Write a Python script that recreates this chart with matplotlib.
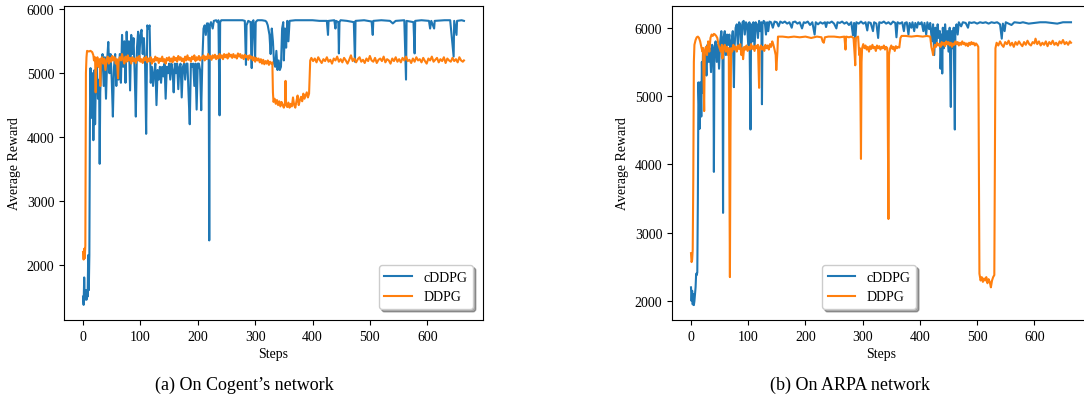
import matplotlib
matplotlib.use("Agg")
import matplotlib.pyplot as plt

plt.rcParams['font.family'] = ['Liberation Serif', 'DejaVu Serif']

# (step, average reward)
cogent_cddpg = [
    (0, 1500), (1, 1370), (2, 1800), (3, 1450), (4, 1600), (5, 1550), (6, 1450), (7, 1600),
    (8, 1500), (9, 2150), (10, 1600), (11, 2150), (12, 4300), (13, 5080), (14, 4500), (15, 4300),
    (16, 5000), (17, 4700), (18, 3950), (19, 4600), (20, 5050), (21, 4200), (22, 4700), (24, 5100),
    (26, 4600), (28, 4900), (29, 3580), (30, 4700), (32, 5200), (34, 5300), (36, 4800), (38, 5250),
    (40, 4600), (42, 5200), (44, 5490), (46, 5000), (48, 5300), (50, 4900), (52, 4320), (54, 5100),
    (56, 5300), (58, 4800), (60, 5200), (62, 4900), (64, 5300), (66, 4850), (68, 5600), (70, 5100),
    (72, 5500), (74, 4850), (76, 5650), (78, 5200), (80, 5500), (82, 4730), (84, 5600), (86, 5300),
    (88, 5550), (90, 5000), (92, 4320), (94, 5400), (96, 5650), (98, 5200), (100, 5600), (102, 5680),
    (104, 5300), (106, 5550), (108, 5200), (110, 4050), (112, 5750), (114, 5700), (116, 5750),
    (118, 4850), (120, 5100), (122, 4800), (124, 5000), (126, 5150), (128, 4500), (130, 5050),
    (132, 4900), (134, 5100), (136, 4850), (138, 5100), (140, 4950), (142, 5150), (144, 4600),
    (146, 5100), (148, 5000), (150, 5150), (152, 4900), (154, 5150), (156, 5050), (158, 4700),
    (160, 5150), (162, 5000), (164, 5150), (166, 4750), (168, 5100), (170, 5150), (172, 4620),
    (174, 5100), (176, 5150), (178, 4900), (180, 5150), (182, 5150), (184, 4650), (186, 4200),
    (188, 5150), (190, 5100), (192, 5150), (194, 4800), (196, 5150), (198, 4430), (200, 5150),
    (202, 5150), (204, 5050), (206, 4420), (208, 5200), (210, 5700), (212, 5750), (214, 5600),
    (216, 5780), (218, 5780), (219, 5300), (220, 2380), (221, 5750), (223, 5800), (226, 5700),
    (228, 5820), (232, 5830), (234, 5800), (236, 5830), (238, 4340), (239, 5800), (241, 5830),
    (250, 5830), (260, 5830), (270, 5830), (278, 5830), (282, 5820), (284, 5130), (285, 5750),
    (288, 5820), (292, 5800), (294, 5080), (295, 5800), (297, 5830), (300, 5200), (301, 5800),
    (304, 5830), (312, 5830), (318, 5820), (320, 5800), (322, 5750), (325, 5600), (327, 5300),
    (329, 5700), (331, 5500), (333, 5150), (335, 5100), (337, 5350), (339, 5050), (341, 5200),
    (343, 5050), (345, 5100), (347, 5700), (349, 5800), (350, 5200), (352, 5700), (354, 5400),
    (356, 5820), (358, 5500), (360, 5820), (370, 5830), (385, 5830), (400, 5830), (412, 5820),
    (425, 5820), (427, 5600), (428, 5820), (438, 5830), (440, 5700), (441, 5820), (445, 5800),
    (446, 5310), (447, 5800), (449, 5830), (460, 5820), (472, 5800), (474, 5180), (475, 5820),
    (490, 5830), (503, 5810), (505, 5600), (506, 5820), (520, 5830), (535, 5820), (540, 5780),
    (545, 5820), (560, 5830), (563, 4900), (564, 5820), (576, 5800), (578, 5310), (579, 5820),
    (590, 5830), (603, 5820), (605, 5700), (607, 5820), (612, 5700), (613, 5820), (630, 5830),
    (640, 5830), (646, 5260), (647, 5820), (651, 5600), (652, 5820), (660, 5830), (664, 5820),
]

cogent_ddpg = [
    (0, 2200), (1, 2080), (2, 2250), (3, 2100), (4, 2300), (5, 5000), (6, 5250), (7, 5350),
    (10, 5340), (13, 5350), (16, 5330), (18, 5280), (19, 5200), (21, 5250), (22, 4700), (23, 5150),
    (25, 5250), (27, 5100), (29, 5220), (30, 4800), (31, 5200), (33, 5250), (35, 5150), (37, 5230),
    (39, 5050), (41, 5200), (43, 5260), (45, 5150), (47, 5240), (49, 5180), (51, 5270), (53, 5200),
    (55, 5250), (57, 5150), (59, 5220), (61, 4920), (62, 5180), (64, 5250), (66, 5200), (68, 5300),
    (70, 5210), (72, 5150), (74, 5260), (76, 5180), (78, 5280), (80, 5200), (82, 5240), (84, 5150),
    (86, 5250), (88, 5190), (90, 5230), (92, 5160), (94, 5250), (96, 5200), (98, 5270), (100, 5180),
    (102, 5220), (104, 5160), (106, 5240), (108, 5200), (110, 5260), (112, 5170), (114, 5230),
    (116, 5190), (118, 5250), (120, 5150), (122, 5220), (124, 5180), (126, 5260), (128, 5200),
    (130, 5240), (132, 5160), (134, 5230), (136, 5190), (138, 5260), (140, 5180), (142, 5220),
    (144, 5150), (146, 5240), (148, 5200), (150, 5250), (152, 5180), (154, 5230), (156, 5170),
    (158, 5260), (160, 5200), (162, 5240), (164, 5180), (166, 5270), (168, 5210), (170, 5250),
    (172, 5190), (174, 5230), (176, 5170), (178, 5260), (180, 5200), (182, 5280), (184, 5210),
    (186, 5240), (188, 5180), (190, 5260), (192, 5220), (194, 5280), (196, 5190), (198, 5250),
    (200, 5210), (202, 5270), (204, 5200), (206, 5250), (208, 5230), (210, 5280), (212, 5200),
    (214, 5260), (216, 5220), (218, 5300), (220, 5230), (222, 5270), (224, 5210), (226, 5280),
    (228, 5240), (230, 5290), (232, 5220), (234, 5270), (236, 5230), (238, 5300), (240, 5240),
    (242, 5280), (244, 5220), (246, 5300), (248, 5250), (250, 5290), (252, 5230), (254, 5310),
    (256, 5260), (258, 5290), (260, 5240), (262, 5300), (264, 5250), (266, 5280), (268, 5230),
    (270, 5310), (272, 5260), (274, 5300), (276, 5240), (278, 5280), (280, 5220), (282, 5290),
    (284, 5250), (286, 5270), (288, 5210), (290, 5280), (292, 5230), (294, 5260), (296, 5200),
    (298, 5250), (300, 5180), (302, 5240), (304, 5200), (306, 5230), (308, 5170), (310, 5220),
    (312, 5150), (314, 5210), (316, 5140), (318, 5190), (320, 5150), (322, 5200), (324, 5130),
    (326, 5180), (328, 5150), (330, 5170), (331, 4700), (332, 4550), (334, 4600), (336, 4520),
    (338, 4580), (340, 4500), (342, 4560), (344, 4480), (346, 4550), (348, 4500), (350, 4460),
    (352, 4540), (353, 4880), (354, 4500), (356, 4470), (358, 4540), (360, 4460), (362, 4520),
    (364, 4480), (366, 4620), (368, 4500), (370, 4460), (372, 4560), (374, 4650), (376, 4500),
    (378, 4580), (380, 4630), (382, 4560), (384, 4680), (386, 4600), (388, 4650), (390, 4700),
    (392, 4620), (394, 4680), (396, 5200), (398, 5240), (401, 5190), (404, 5230), (407, 5170),
    (410, 5250), (413, 5200), (416, 5160), (419, 5220), (422, 5190), (425, 5250), (428, 5180),
    (431, 5210), (434, 5150), (437, 5230), (440, 5200), (443, 5260), (446, 5180), (449, 5220),
    (452, 5170), (455, 5240), (458, 5200), (461, 5150), (464, 5210), (467, 5280), (470, 5190),
    (473, 5230), (476, 5170), (479, 5220), (482, 5250), (485, 5180), (488, 5210), (491, 5160),
    (494, 5230), (497, 5190), (500, 5270), (503, 5200), (506, 5180), (509, 5240), (512, 5160),
    (515, 5210), (518, 5230), (521, 5190), (524, 5260), (527, 5170), (530, 5220), (533, 5200),
    (536, 5150), (539, 5230), (542, 5190), (545, 5250), (548, 5180), (551, 5220), (554, 5170),
    (557, 5240), (560, 5200), (563, 5260), (566, 5190), (569, 5210), (572, 5160), (575, 5230),
    (578, 5180), (581, 5250), (584, 5200), (587, 5220), (590, 5170), (593, 5240), (596, 5190),
    (599, 5150), (602, 5230), (605, 5200), (608, 5260), (611, 5180), (614, 5210), (617, 5240),
    (620, 5170), (623, 5220), (626, 5190), (629, 5250), (632, 5160), (635, 5230), (638, 5200),
    (641, 5180), (644, 5240), (647, 5190), (650, 5220), (653, 5170), (656, 5250), (659, 5200),
    (662, 5180), (664, 5200),
]

arpa_cddpg = [
    (0, 2200), (1, 2000), (2, 2150), (3, 1950), (4, 2100), (5, 1940), (6, 2000), (7, 2100),
    (8, 2200), (9, 2400), (10, 2380), (11, 2420), (12, 3500), (13, 5200), (14, 4900), (15, 4520),
    (16, 5200), (17, 5100), (18, 4700), (19, 5500), (20, 5050), (21, 5700), (22, 5100), (23, 5400),
    (25, 5650), (27, 5300), (29, 5750), (31, 5500), (33, 5700), (35, 5350), (37, 5750), (39, 5600),
    (40, 3890), (41, 5700), (43, 5800), (45, 5500), (47, 5750), (49, 5400), (51, 5800), (53, 5950),
    (55, 5700), (56, 3290), (57, 5850), (59, 5950), (61, 5600), (63, 5900), (65, 5750), (67, 5900),
    (69, 5600), (71, 5800), (73, 5950), (75, 5130), (76, 5700), (78, 6000), (80, 6050), (82, 5700),
    (84, 6080), (86, 6050), (88, 5650), (90, 6080), (92, 6100), (94, 5900), (96, 6080), (98, 6050),
    (100, 5750), (102, 6080), (104, 4510), (105, 6050), (107, 5800), (109, 6080), (111, 5700),
    (113, 6080), (115, 6050), (117, 5850), (119, 6100), (121, 5950), (123, 6080), (124, 4880),
    (125, 6050), (127, 6100), (129, 6080), (131, 5900), (133, 6080), (135, 5950), (137, 6090),
    (140, 6080), (143, 6000), (146, 6090), (150, 6080), (153, 6020), (156, 6090), (160, 6070),
    (164, 6090), (168, 6060), (172, 6080), (176, 6000), (178, 6080), (182, 6090), (186, 6060),
    (190, 6080), (194, 5990), (197, 6080), (200, 6070), (204, 6090), (208, 6040), (212, 6080),
    (216, 5900), (218, 6080), (222, 6050), (226, 6080), (230, 6060), (234, 6080), (236, 6010),
    (238, 6080), (242, 6070), (246, 6090), (250, 6060), (254, 5990), (256, 6080), (260, 6070),
    (264, 6090), (268, 6060), (272, 6080), (276, 6040), (280, 6080), (283, 5890), (285, 6070),
    (287, 5800), (289, 6080), (293, 6060), (297, 6090), (301, 6060), (305, 6080), (308, 5960),
    (310, 6080), (314, 6070), (318, 5950), (320, 6080), (324, 6060), (327, 5850), (329, 6080),
    (333, 6070), (337, 6090), (341, 6060), (345, 6080), (349, 6050), (353, 6090), (357, 6070),
    (359, 5860), (361, 6080), (365, 6060), (369, 6080), (372, 5950), (374, 6070), (377, 6080),
    (380, 5900), (382, 6070), (385, 6000), (387, 6080), (390, 5950), (392, 6070), (395, 6000),
    (397, 6080), (400, 6050), (403, 6080), (406, 5950), (408, 6070), (411, 5900), (413, 6080),
    (416, 5980), (418, 6070), (421, 5800), (423, 6050), (425, 5600), (427, 6000), (429, 5750),
    (431, 6050), (433, 5850), (435, 5950), (436, 5400), (438, 5900), (439, 5330), (440, 6000),
    (442, 5700), (444, 6050), (446, 5800), (448, 5950), (450, 5650), (452, 6000), (454, 4840),
    (455, 5950), (457, 5700), (459, 6000), (461, 4510), (462, 5980), (464, 6050), (466, 5900),
    (468, 6080), (472, 6020), (475, 6080), (480, 6070), (484, 6000), (486, 6080), (490, 6070),
    (495, 6080), (500, 6060), (505, 6080), (510, 6070), (515, 6080), (520, 6060), (525, 6080),
    (530, 6070), (535, 6080), (540, 6050), (543, 5840), (545, 6060), (548, 5950), (550, 6080),
    (560, 6040), (565, 6080), (575, 6070), (580, 6080), (590, 6060), (600, 6070), (610, 6080),
    (620, 6080), (630, 6070), (640, 6060), (650, 6080), (664, 6080),
]

arpa_ddpg = [
    (0, 2700), (1, 2570), (2, 2600), (3, 2750), (4, 3800), (5, 5500), (6, 5750), (8, 5820),
    (10, 5860), (12, 5870), (14, 5850), (16, 5800), (18, 5720), (20, 5650), (21, 5700), (23, 4780),
    (24, 5650), (26, 5720), (28, 5600), (30, 5800), (32, 5650), (34, 5850), (36, 5900), (38, 5880),
    (40, 5910), (42, 5900), (44, 5880), (46, 5850), (48, 5750), (50, 5700), (52, 5650), (54, 5750),
    (55, 5550), (57, 5700), (59, 5750), (61, 5650), (63, 5720), (65, 5600), (66, 5700), (67, 4000),
    (68, 2350), (69, 4500), (70, 5700), (72, 5650), (74, 5750), (76, 5680), (78, 5720), (80, 5650),
    (82, 5740), (84, 5690), (86, 5760), (88, 5600), (90, 5700), (91, 5540), (93, 5720), (95, 5680),
    (97, 5740), (99, 5660), (101, 5720), (103, 5680), (105, 5760), (107, 5690), (109, 5730),
    (111, 5660), (113, 5740), (115, 5700), (117, 5750), (119, 5120), (120, 5700), (122, 5740),
    (124, 5680), (126, 5720), (128, 5660), (130, 5750), (132, 5700), (134, 5740), (136, 5680),
    (138, 5760), (140, 5720), (142, 5800), (144, 5750), (146, 5680), (148, 5600), (149, 5380),
    (151, 5650), (152, 5870), (160, 5870), (170, 5860), (180, 5870), (190, 5860), (200, 5870),
    (210, 5850), (220, 5870), (228, 5860), (230, 5800), (232, 5780), (234, 5860), (240, 5870),
    (250, 5870), (260, 5860), (268, 5870), (270, 5680), (271, 5870), (276, 5860), (280, 5870),
    (284, 5850), (286, 5600), (287, 5450), (288, 5850), (292, 5870), (294, 5600), (295, 5700),
    (296, 5100), (297, 4080), (298, 5500), (299, 5700), (301, 5760), (303, 5700), (305, 5740),
    (307, 5680), (309, 5720), (311, 5650), (313, 5730), (315, 5690), (317, 5750), (319, 5700),
    (321, 5720), (323, 5660), (325, 5740), (327, 5700), (329, 5730), (331, 5680), (333, 5720),
    (335, 5700), (337, 5740), (339, 5680), (341, 5720), (343, 5700), (344, 4500), (345, 3200),
    (346, 5600), (348, 5700), (350, 5740), (352, 5690), (354, 5720), (356, 5660), (358, 5730),
    (360, 5700), (362, 5720), (364, 5710), (366, 5850), (368, 5880), (375, 5880), (385, 5870),
    (395, 5880), (405, 5870), (412, 5880), (418, 5870), (419, 5800), (420, 5720), (422, 5650),
    (423, 5600), (424, 5680), (426, 5750), (428, 5720), (430, 5780), (432, 5740), (434, 5760),
    (436, 5720), (438, 5790), (440, 5750), (442, 5780), (444, 5730), (446, 5800), (448, 5760),
    (450, 5790), (452, 5740), (454, 5780), (456, 5720), (458, 5770), (460, 5750), (462, 5800),
    (464, 5760), (466, 5790), (468, 5740), (470, 5780), (472, 5750), (474, 5800), (476, 5760),
    (478, 5780), (480, 5740), (482, 5770), (484, 5730), (486, 5780), (488, 5750), (490, 5790),
    (492, 5760), (494, 5780), (496, 5740), (498, 5770), (500, 5750), (502, 5720), (503, 4000),
    (504, 2400), (506, 2300), (508, 2350), (510, 2280), (512, 2330), (514, 2300), (516, 2350),
    (518, 2260), (520, 2320), (522, 2280), (524, 2200), (526, 2300), (528, 2350), (530, 2380),
    (531, 4200), (532, 5700), (534, 5780), (537, 5740), (540, 5800), (543, 5750), (546, 5720),
    (549, 5790), (552, 5760), (555, 5810), (558, 5740), (561, 5780), (564, 5720), (567, 5790),
    (570, 5750), (573, 5800), (576, 5760), (579, 5730), (582, 5790), (585, 5750), (588, 5810),
    (591, 5760), (594, 5740), (597, 5790), (600, 5770), (602, 5840), (605, 5760), (608, 5800),
    (611, 5740), (614, 5780), (617, 5750), (620, 5800), (623, 5730), (626, 5790), (629, 5760),
    (632, 5810), (635, 5750), (638, 5780), (641, 5740), (644, 5800), (647, 5770), (650, 5820),
    (653, 5760), (656, 5790), (659, 5750), (662, 5800), (664, 5780),
]

captions = ["(a) On Cogent\u2019s network", "(b) On ARPA network"]
series_names = ["cDDPG", "DDPG"]
blue = "#1f77b4"
orange = "#ff7f0e"

fig = plt.figure(figsize=(10.84, 4.02), dpi=100)
W, H = 1084, 402
ax1 = fig.add_axes([64 / W, (H - 321) / H, 419 / W, 314 / H])
ax2 = fig.add_axes([672 / W, (H - 321) / H, 418 / W, 314 / H])

panels = [
    (ax1, cogent_cddpg, cogent_ddpg, (1133, 6053), (0.976, 0.035), "lower right"),
    (ax2, arpa_cddpg, arpa_ddpg, (1722, 6318), (0.359, 0.035), "lower left"),
]

for ax, cd, dd, ylim, anchor, loc in panels:
    ax.plot([s for s, v in cd], [v for s, v in cd], color=blue, lw=1.5, label=series_names[0])
    ax.plot([s for s, v in dd], [v for s, v in dd], color=orange, lw=1.5, label=series_names[1])
    ax.set_xlim(-33.2, 697.2)
    ax.set_ylim(*ylim)
    ax.set_xticks(range(0, 700, 100))
    ax.set_yticks(range(2000, 7000, 1000))
    ax.tick_params(labelsize=10)
    ax.set_xlabel("Steps", fontsize=10, labelpad=3)
    ax.set_ylabel("Average Reward", fontsize=10)
    ax.legend(loc=loc, bbox_to_anchor=anchor, borderaxespad=0, shadow=True,
              fontsize=10, framealpha=1)

fig.text(244 / W, 1 - 385 / H, captions[0], ha="center", va="center", fontsize=13)
fig.text(850 / W, 1 - 385 / H, captions[1], ha="center", va="center", fontsize=13)

fig.savefig("out.png", dpi=100)
